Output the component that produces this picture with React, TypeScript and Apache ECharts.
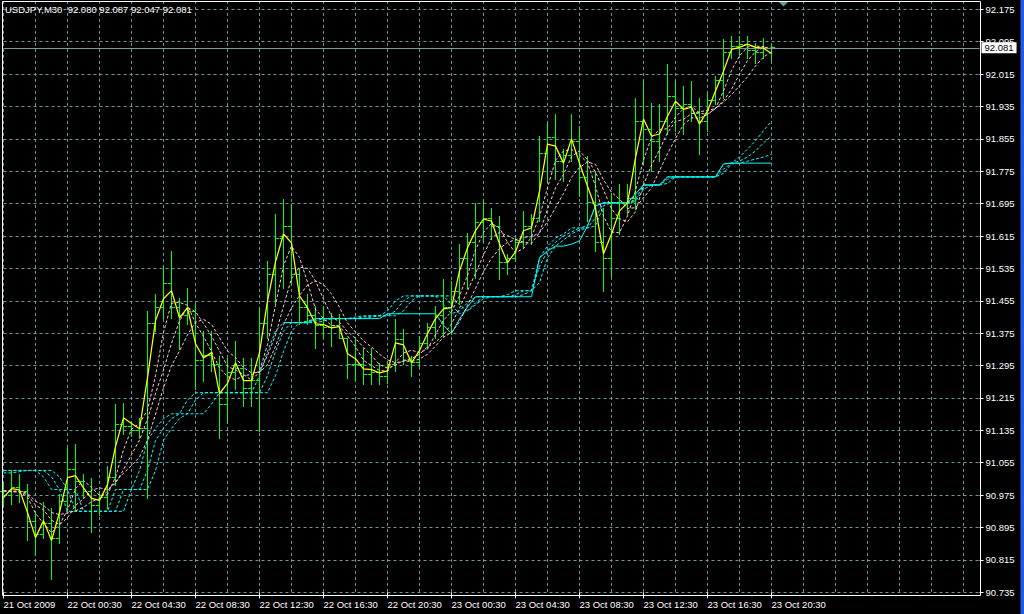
import React, { useEffect, useRef } from "react";
import * as echarts from "echarts";

const SYMBOL = "USDJPY,M30";
const TIME_LABELS = [
  "21 Oct 2009", "22 Oct 00:30", "22 Oct 04:30", "22 Oct 08:30", "22 Oct 12:30",
  "22 Oct 16:30", "22 Oct 20:30", "23 Oct 00:30", "23 Oct 04:30", "23 Oct 08:30",
  "23 Oct 12:30", "23 Oct 16:30", "23 Oct 20:30",
];
const EMPTY_SLOTS = 26; // free space right of the last bar (chart shift)

const OPEN = [
  90.985, 90.975, 90.995, 90.985, 90.910, 90.880, 90.905, 90.870, 90.960, 91.040,
  91.010, 90.985, 90.950, 90.970, 91.020, 91.150, 91.145, 91.135, 91.140, 91.400,
  91.440, 91.500, 91.440, 91.420, 91.430, 91.310, 91.320, 91.300, 91.200, 91.280,
  91.290, 91.240, 91.260, 91.400, 91.520, 91.610, 91.640, 91.520, 91.440, 91.420,
  91.395, 91.390, 91.395, 91.364, 91.300, 91.300, 91.275, 91.280, 91.270, 91.300,
  91.360, 91.310, 91.305, 91.350, 91.390, 91.420, 91.440, 91.480, 91.560, 91.600,
  91.650, 91.660, 91.640, 91.550, 91.560, 91.600, 91.640, 91.660, 91.820, 91.860,
  91.800, 91.815, 91.850, 91.760, 91.700, 91.600, 91.560, 91.660, 91.700, 91.710,
  91.900, 91.880, 91.850, 91.900, 91.960, 91.930, 91.940, 91.920, 91.900, 91.950,
  92.000, 92.070, 92.085, 92.090, 92.075, 92.070, 92.080,
];
const HIGH = [
  91.006, 91.036, 91.028, 91.003, 90.937, 90.957, 90.942, 90.979, 91.092, 91.102,
  91.028, 91.018, 90.986, 91.048, 91.201, 91.203, 91.159, 91.166, 91.430, 91.472,
  91.541, 91.578, 91.462, 91.487, 91.450, 91.381, 91.381, 91.319, 91.314, 91.356,
  91.314, 91.314, 91.438, 91.554, 91.669, 91.707, 91.694, 91.536, 91.472, 91.443,
  91.443, 91.425, 91.423, 91.364, 91.364, 91.339, 91.339, 91.302, 91.307, 91.411,
  91.386, 91.319, 91.369, 91.401, 91.443, 91.509, 91.504, 91.596, 91.623, 91.697,
  91.707, 91.684, 91.665, 91.571, 91.610, 91.677, 91.669, 91.862, 91.894, 91.916,
  91.830, 91.916, 91.887, 91.812, 91.775, 91.684, 91.719, 91.743, 91.743, 91.955,
  91.997, 91.943, 91.941, 92.039, 91.997, 91.985, 91.997, 91.955, 91.968, 92.010,
  92.101, 92.108, 92.108, 92.108, 92.091, 92.104, 92.087,
];
const LOW = [
  90.954, 90.954, 90.957, 90.863, 90.826, 90.870, 90.769, 90.856, 90.942, 90.937,
  90.967, 90.883, 90.925, 90.944, 90.999, 91.127, 91.122, 91.117, 90.969, 91.381,
  91.413, 91.413, 91.337, 91.398, 91.238, 91.258, 91.282, 91.117, 91.154, 91.238,
  91.196, 91.196, 91.134, 91.364, 91.448, 91.487, 91.497, 91.398, 91.398, 91.339,
  91.364, 91.344, 91.364, 91.265, 91.258, 91.250, 91.250, 91.250, 91.253, 91.282,
  91.300, 91.270, 91.295, 91.339, 91.364, 91.369, 91.374, 91.448, 91.487, 91.512,
  91.603, 91.608, 91.509, 91.521, 91.554, 91.586, 91.596, 91.652, 91.751, 91.756,
  91.751, 91.800, 91.714, 91.652, 91.578, 91.480, 91.517, 91.620, 91.669, 91.682,
  91.793, 91.775, 91.800, 91.867, 91.874, 91.867, 91.899, 91.817, 91.874, 91.941,
  91.955, 92.054, 92.064, 92.054, 92.042, 92.054, 92.047,
];
const CLOSE = [
  90.975, 90.995, 90.985, 90.910, 90.880, 90.905, 90.870, 90.960, 91.040, 91.010,
  90.985, 90.950, 90.970, 91.020, 91.150, 91.145, 91.135, 91.140, 91.400, 91.440,
  91.500, 91.440, 91.420, 91.430, 91.310, 91.320, 91.300, 91.200, 91.280, 91.290,
  91.240, 91.260, 91.400, 91.520, 91.610, 91.640, 91.520, 91.440, 91.420, 91.395,
  91.390, 91.395, 91.364, 91.300, 91.300, 91.275, 91.280, 91.270, 91.300, 91.360,
  91.310, 91.305, 91.350, 91.390, 91.420, 91.440, 91.480, 91.560, 91.600, 91.650,
  91.660, 91.640, 91.550, 91.560, 91.600, 91.640, 91.660, 91.820, 91.860, 91.800,
  91.815, 91.850, 91.760, 91.700, 91.600, 91.560, 91.660, 91.700, 91.710, 91.900,
  91.880, 91.850, 91.900, 91.960, 91.930, 91.940, 91.920, 91.900, 91.950, 92.000,
  92.070, 92.085, 92.090, 92.075, 92.070, 92.080, 92.081,
];
// yellow fast line
const FAST_LINE = [
  90.969, 90.991, 90.988, 90.932, 90.870, 90.912, 90.863, 90.932, 91.018, 91.023,
  90.993, 90.967, 90.962, 91.001, 91.095, 91.166, 91.152, 91.139, 91.265, 91.406,
  91.460, 91.480, 91.413, 91.438, 91.349, 91.314, 91.327, 91.226, 91.251, 91.302,
  91.258, 91.258, 91.327, 91.455, 91.551, 91.620, 91.598, 91.467, 91.438, 91.398,
  91.396, 91.388, 91.391, 91.324, 91.312, 91.287, 91.285, 91.277, 91.282, 91.351,
  91.346, 91.302, 91.332, 91.374, 91.411, 91.435, 91.438, 91.529, 91.586, 91.628,
  91.657, 91.652, 91.596, 91.549, 91.576, 91.628, 91.635, 91.726, 91.842, 91.837,
  91.795, 91.855, 91.795, 91.738, 91.684, 91.571, 91.620, 91.677, 91.697, 91.808,
  91.904, 91.862, 91.867, 91.911, 91.948, 91.928, 91.933, 91.892, 91.924, 91.973,
  92.022, 92.076, 92.081, 92.089, 92.081, 92.079, 92.066,
];
// pink dotted lines
const PINK_1 = [
  90.986, 90.983, 90.983, 90.970, 90.930, 90.905, 90.882, 90.902, 90.938, 90.991,
  91.011, 90.994, 90.974, 90.977, 91.019, 91.087, 91.138, 91.152, 91.185, 91.270,
  91.377, 91.449, 91.451, 91.444, 91.400, 91.367, 91.330, 91.289, 91.268, 91.260,
  91.270, 91.273, 91.281, 91.347, 91.444, 91.542, 91.590, 91.562, 91.501, 91.434,
  91.411, 91.394, 91.392, 91.368, 91.342, 91.308, 91.295, 91.283, 91.281, 91.303,
  91.326, 91.333, 91.327, 91.336, 91.372, 91.407, 91.428, 91.467, 91.518, 91.581,
  91.624, 91.646, 91.635, 91.599, 91.574, 91.584, 91.613, 91.663, 91.734, 91.802,
  91.825, 91.829, 91.815, 91.796, 91.739, 91.664, 91.625, 91.623, 91.665, 91.727,
  91.803, 91.858, 91.878, 91.880, 91.909, 91.929, 91.936, 91.918, 91.916, 91.930,
  91.973, 92.024, 92.060, 92.082, 92.084, 92.083, 92.075,
];
const PINK_2 = [
  90.985, 90.985, 90.983, 90.976, 90.950, 90.939, 90.913, 90.902, 90.919, 90.950,
  90.966, 90.987, 90.993, 90.989, 91.004, 91.038, 91.075, 91.111, 91.163, 91.226,
  91.284, 91.350, 91.405, 91.439, 91.428, 91.399, 91.368, 91.331, 91.293, 91.284,
  91.273, 91.259, 91.279, 91.320, 91.370, 91.442, 91.510, 91.538, 91.535, 91.504,
  91.459, 91.417, 91.402, 91.379, 91.362, 91.340, 91.320, 91.297, 91.289, 91.296,
  91.308, 91.312, 91.323, 91.341, 91.353, 91.371, 91.398, 91.437, 91.480, 91.523,
  91.568, 91.610, 91.624, 91.616, 91.606, 91.600, 91.597, 91.623, 91.681, 91.734,
  91.767, 91.811, 91.825, 91.804, 91.773, 91.729, 91.682, 91.658, 91.650, 91.675,
  91.741, 91.790, 91.828, 91.870, 91.898, 91.903, 91.917, 91.922, 91.925, 91.930,
  91.949, 91.977, 92.015, 92.048, 92.070, 92.081, 92.079,
];
const PINK_3 = [
  90.985, 90.985, 90.985, 90.980, 90.960, 90.950, 90.932, 90.927, 90.931, 90.936,
  90.945, 90.959, 90.966, 90.985, 91.009, 91.029, 91.048, 91.069, 91.111, 91.175,
  91.240, 91.295, 91.331, 91.371, 91.402, 91.409, 91.397, 91.364, 91.331, 91.315,
  91.290, 91.277, 91.278, 91.297, 91.343, 91.396, 91.438, 91.468, 91.494, 91.504,
  91.495, 91.472, 91.439, 91.400, 91.378, 91.356, 91.341, 91.323, 91.309, 91.302,
  91.306, 91.305, 91.311, 91.323, 91.343, 91.365, 91.377, 91.403, 91.444, 91.486,
  91.527, 91.560, 91.584, 91.599, 91.606, 91.612, 91.613, 91.623, 91.650, 91.685,
  91.720, 91.760, 91.784, 91.798, 91.792, 91.754, 91.723, 91.706, 91.683, 91.685,
  91.709, 91.734, 91.777, 91.818, 91.856, 91.890, 91.907, 91.906, 91.915, 91.930,
  91.946, 91.964, 91.986, 92.008, 92.035, 92.057, 92.070,
];
// cyan solid step line (starts at bar 35)
const CYAN_SOLID = [
  null, null, null, null, null, null, null, null, null, null,
  null, null, null, null, null, null, null, null, null, null,
  null, null, null, null, null, null, null, null, null, null,
  null, null, null, null, null, 91.401, 91.401, 91.401, 91.401, 91.411,
  91.411, 91.411, 91.411, 91.411, 91.411, 91.411, 91.411, 91.411, 91.423, 91.423,
  91.423, 91.423, 91.423, 91.423, 91.423, 91.395, 91.374, 91.410, 91.440, 91.465,
  91.465, 91.465, 91.465, 91.465, 91.465, 91.465, 91.465, 91.561, 91.578, 91.590,
  91.590, 91.595, 91.603, 91.640, 91.689, 91.697, 91.697, 91.697, 91.697, 91.719,
  91.741, 91.741, 91.741, 91.761, 91.761, 91.761, 91.761, 91.761, 91.761, 91.761,
  91.793, 91.795, 91.795, 91.795, 91.795, 91.795, 91.795,
];
// cyan dotted lines
const CYAN_1 = [
  91.036, 91.036, 91.036, 91.036, 91.036, 91.020, 90.989, 90.989, 90.935, 90.935,
  90.935, 90.935, 90.935, 90.935, 90.989, 90.989, 90.989, 91.036, 91.110, 91.140,
  91.164, 91.176, 91.176, 91.210, 91.228, 91.228, 91.228, 91.228, 91.228, 91.228,
  91.228, 91.228, 91.270, 91.330, 91.380, 91.401, 91.401, 91.401, 91.405, 91.411,
  91.411, 91.411, 91.411, 91.411, 91.415, 91.418, 91.418, 91.418, 91.430, 91.455,
  91.467, 91.467, 91.467, 91.467, 91.467, 91.445, 91.423, 91.430, 91.450, 91.465,
  91.465, 91.465, 91.465, 91.470, 91.480, 91.480, 91.480, 91.561, 91.590, 91.610,
  91.620, 91.635, 91.635, 91.640, 91.689, 91.697, 91.697, 91.697, 91.697, 91.719,
  91.741, 91.741, 91.741, 91.761, 91.761, 91.761, 91.761, 91.761, 91.761, 91.761,
  91.793, 91.795, 91.810, 91.830, 91.850, 91.875, 91.899,
];
const CYAN_2 = [
  91.036, 91.036, 91.036, 91.036, 91.036, 91.036, 91.020, 90.989, 90.989, 90.935,
  90.935, 90.935, 90.935, 90.935, 90.935, 90.989, 90.989, 90.989, 91.036, 91.110,
  91.140, 91.164, 91.176, 91.176, 91.210, 91.228, 91.228, 91.228, 91.228, 91.228,
  91.228, 91.228, 91.228, 91.270, 91.330, 91.380, 91.401, 91.401, 91.401, 91.405,
  91.411, 91.411, 91.411, 91.411, 91.411, 91.415, 91.418, 91.418, 91.418, 91.430,
  91.455, 91.467, 91.467, 91.467, 91.467, 91.467, 91.445, 91.423, 91.430, 91.450,
  91.465, 91.465, 91.465, 91.465, 91.470, 91.480, 91.480, 91.540, 91.578, 91.600,
  91.615, 91.625, 91.635, 91.635, 91.660, 91.697, 91.697, 91.697, 91.697, 91.705,
  91.741, 91.741, 91.741, 91.755, 91.761, 91.761, 91.761, 91.761, 91.761, 91.761,
  91.780, 91.795, 91.800, 91.810, 91.825, 91.845, 91.862,
];
const CYAN_3 = [
  91.030, 91.030, 91.033, 91.036, 91.036, 91.036, 91.036, 91.020, 90.989, 90.989,
  90.935, 90.935, 90.935, 90.935, 90.935, 90.935, 90.989, 90.989, 90.989, 91.036,
  91.110, 91.140, 91.164, 91.176, 91.176, 91.176, 91.200, 91.228, 91.228, 91.228,
  91.228, 91.228, 91.228, 91.228, 91.270, 91.330, 91.380, 91.401, 91.401, 91.401,
  91.405, 91.411, 91.411, 91.411, 91.411, 91.411, 91.415, 91.418, 91.418, 91.418,
  91.430, 91.455, 91.467, 91.467, 91.467, 91.467, 91.467, 91.445, 91.430, 91.445,
  91.460, 91.465, 91.465, 91.465, 91.465, 91.470, 91.480, 91.500, 91.561, 91.590,
  91.605, 91.620, 91.630, 91.635, 91.640, 91.690, 91.697, 91.697, 91.697, 91.700,
  91.730, 91.741, 91.741, 91.745, 91.761, 91.761, 91.761, 91.761, 91.761, 91.761,
  91.770, 91.793, 91.795, 91.800, 91.805, 91.810, 91.817,
];

const PRICE_MIN = 90.735;
const PRICE_MAX = 92.255;
const PRICE_STEP = 0.08;

const FONT = "'Liberation Sans', Arial, sans-serif";
const GRID_COLOR = "#6b9a9a";
const PRICE_LINE_COLOR = "#7a9a9a";
const BAR_COLOR = "#00ff00";
const CYAN = "#00ffff";
const PINK = "#ffc8d0";
const YELLOW = "#ffff00";

export default function App() {
  const ref = useRef<HTMLDivElement>(null);

  useEffect(() => {
    document.body.style.margin = "0";
    document.body.style.background = "#000";
    if (!ref.current) return;
    const chart = echarts.init(ref.current, undefined, { renderer: "svg" });

    const n = OPEN.length;
    const total = n + EMPTY_SLOTS;
    const categories: string[] = [];
    for (let i = 0; i < total; i++) {
      categories.push(i % 8 === 0 && i / 8 < TIME_LABELS.length ? TIME_LABELS[i / 8] : "");
    }
    const labelled = (i: number) => i % 8 === 0 && i / 8 < TIME_LABELS.length;
    const ohlc = OPEN.map((o, i) => [i, o, HIGH[i], LOW[i], CLOSE[i]]);
    const last = n - 1;
    const title = `${SYMBOL}  ${OPEN[last].toFixed(3)} ${HIGH[last].toFixed(3)} ${LOW[last].toFixed(3)} ${CLOSE[last].toFixed(3)}`;

    const dotted = (data: (number | null)[], color: string, z: number) => ({
      type: "line",
      data,
      showSymbol: false,
      symbol: "none",
      silent: true,
      z,
      lineStyle: { color, width: 1, type: [3, 2] },
    });

    chart.setOption({
      animation: false,
      backgroundColor: "#000",
      title: {
        text: title,
        left: 5,
        top: 4,
        padding: 0,
        textStyle: { color: "#fff", fontSize: 9.5, fontWeight: "normal", fontFamily: FONT },
      },
      grid: {
        left: 3.5,
        right: 44.5,
        top: -23.1,
        bottom: 21.7,
        containLabel: false,
        outerBoundsMode: "none",
      },
      xAxis: {
        type: "category",
        data: categories,
        boundaryGap: false,
        axisLine: { show: false },
        axisTick: { show: true, interval: (i: number) => labelled(i), length: 6, lineStyle: { color: "#fff" } },
        axisLabel: {
          interval: (i: number) => labelled(i),
          color: "#fff",
          fontSize: 9.5,
          fontFamily: FONT,
          align: "left",
          margin: 7,
        },
        splitLine: {
          show: true,
          interval: (i: number) => i % 4 === 0,
          lineStyle: { color: GRID_COLOR, width: 1, type: [3, 3] },
        },
      },
      yAxis: {
        type: "value",
        position: "right",
        min: PRICE_MIN,
        max: PRICE_MAX,
        interval: PRICE_STEP,
        scale: true,
        axisLine: { show: false },
        axisTick: { show: true, length: 4, lineStyle: { color: "#fff" } },
        axisLabel: {
          color: "#fff",
          fontSize: 9.5,
          fontFamily: FONT,
          margin: 6,
          showMaxLabel: false,
          formatter: (v: number) => (v > 92.2 ? "" : v.toFixed(3)),
        },
        splitLine: { show: true, lineStyle: { color: GRID_COLOR, width: 1, type: [3, 3] } },
      },
      series: [
        dotted(CYAN_3, CYAN, 2),
        dotted(CYAN_2, CYAN, 2),
        dotted(CYAN_1, CYAN, 2),
        {
          type: "line",
          data: CYAN_SOLID,
          showSymbol: false,
          symbol: "none",
          silent: true,
          z: 2,
          lineStyle: { color: CYAN, width: 1 },
          markLine: {
            silent: true,
            symbol: ["none", "none"],
            animation: false,
            lineStyle: { color: PRICE_LINE_COLOR, type: "solid", width: 1 },
            label: {
              show: true,
              position: "end",
              distance: 2,
              formatter: CLOSE[last].toFixed(3),
              color: "#000",
              backgroundColor: "#fff",
              padding: [1, 3, 0, 3],
              fontSize: 9.5,
              lineHeight: 10,
              fontFamily: FONT,
            },
            emphasis: { disabled: true },
            data: [{ yAxis: CLOSE[last] }],
          },
        },
        {
          type: "custom",
          data: ohlc,
          silent: true,
          z: 3,
          encode: { x: 0, y: [1, 2, 3, 4] },
          renderItem: (_params: any, api: any) => {
            const k = api.value(0);
            const o = api.coord([k, api.value(1)]);
            const h = api.coord([k, api.value(2)]);
            const l = api.coord([k, api.value(3)]);
            const c = api.coord([k, api.value(4)]);
            const x = h[0];
            const yo = Math.round(o[1]) + 0.5;
            const yc = Math.round(c[1]) + 0.5;
            const style = { stroke: BAR_COLOR, lineWidth: 1 };
            return {
              type: "group",
              children: [
                { type: "line", shape: { x1: x, y1: Math.round(h[1]), x2: x, y2: Math.round(l[1]) + 1 }, style },
                { type: "line", shape: { x1: x - 3.5, y1: yo, x2: x, y2: yo }, style },
                { type: "line", shape: { x1: x, y1: yc, x2: x + 3.5, y2: yc }, style },
              ],
            };
          },
        },
        dotted(PINK_3, PINK, 4),
        dotted(PINK_2, PINK, 4),
        dotted(PINK_1, PINK, 4),
        {
          type: "line",
          data: FAST_LINE,
          showSymbol: false,
          symbol: "none",
          silent: true,
          z: 5,
          lineStyle: { color: YELLOW, width: 1.25 },
        },
      ],
      graphic: [
        {
          type: "rect",
          z: 100,
          silent: true,
          shape: { x: 2.5, y: 1.5, width: 978, height: 594 },
          style: { fill: "none", stroke: "#fff", lineWidth: 1 },
        },
        {
          type: "polygon",
          z: 100,
          silent: true,
          shape: { points: [[779, 2], [788, 2], [783.5, 6.5]] },
          style: { fill: GRID_COLOR },
        },
        {
          type: "rect",
          z: 100,
          silent: true,
          shape: { x: 1020.5, y: 0, width: 3.5, height: 614 },
          style: { fill: "#1f5be6" },
        },
      ],
    });

    return () => chart.dispose();
  }, []);

  return (
    <div
      ref={ref}
      style={{ position: "absolute", left: 0, top: 0, width: 1024, height: 614 }}
    />
  );
}
